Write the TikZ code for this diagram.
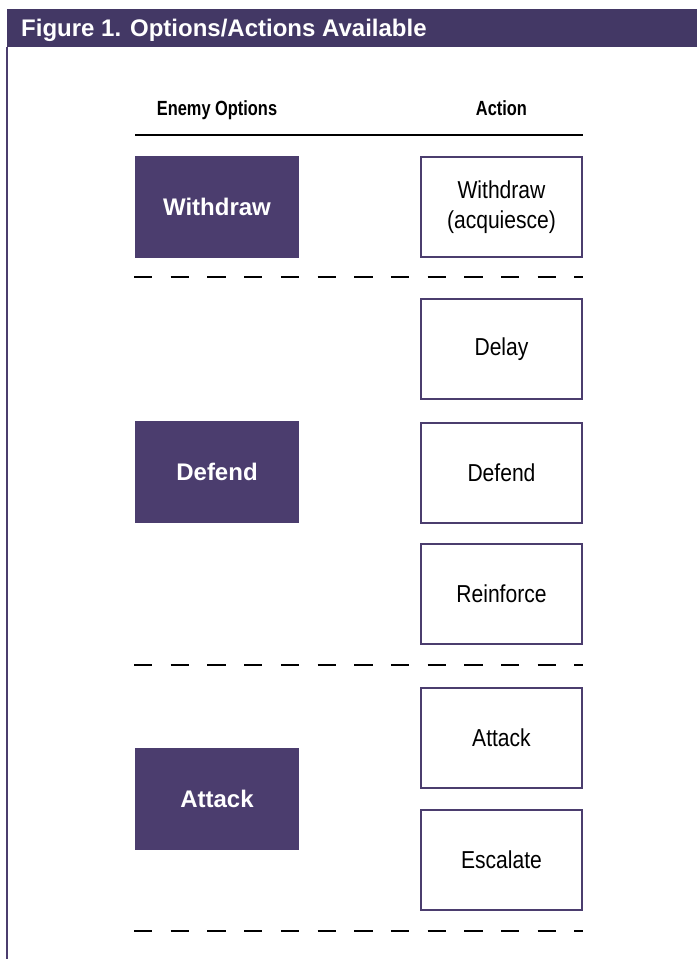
\documentclass[tikz,border=0pt]{standalone}
\usepackage{fontspec}
\setmainfont{Liberation Sans}
\newfontfamily\headcond[FakeStretch=0.8]{Liberation Sans}
\newfontfamily\boxcond[FakeStretch=0.86]{Liberation Sans}
\definecolor{barpurple}{RGB}{67,56,101}
\definecolor{boxpurple}{RGB}{75,61,110}
\tikzset{
  optionbox/.style={rectangle, fill=boxpurple, draw=none, minimum width=164pt, minimum height=102pt,
    inner sep=0pt, text=white, font=\fontsize{24}{28}\selectfont\bfseries},
  actionbox/.style={rectangle, draw=boxpurple, line width=2pt, fill=white, minimum width=161pt,
    minimum height=100pt, inner sep=0pt, align=center, font=\boxcond\fontsize{24.5}{30}\selectfont},
  colhead/.style={anchor=base, inner sep=0pt, font=\headcond\bfseries\fontsize{20.5}{24}\selectfont},
  separator/.style={line width=2.8pt, dash pattern=on 18.3pt off 18.4pt},
}
\begin{document}
\begin{tikzpicture}[x=1pt, y=-1pt]
\useasboundingbox (0,0) rectangle (697,959);
% frame: title bar and left rule
\fill[barpurple] (7,9) rectangle (697,47);
\draw[boxpurple, line width=1.5pt] (7,47) -- (7,959);
\node[anchor=base west, inner sep=0pt, text=white, font=\fontsize{24}{28}\selectfont\bfseries]
  (title) at (21,36) {Figure 1. Options/Actions Available};

% column headings and rule
\node[colhead] (hleft) at (217,115) {Enemy Options};
\node[colhead] (hright) at (501.5,115) {Action};
\coordinate (ruleL) at (135,135);
\coordinate (ruleR) at (583,135);
\draw[line width=2pt] (ruleL) -- (ruleR);

% enemy options
\node[optionbox] (ow) at (217,207) {Withdraw};
\node[optionbox] (od) at (217,472) {Defend};
\node[optionbox] (oa) at (217,799) {Attack};

% actions
\node[actionbox] (aw) at (501.5,207) {Withdraw\\(acquiesce)};
\node[actionbox] (adl) at (501.5,349) {Delay};
\node[actionbox] (adf) at (501.5,472.5) {Defend};
\node[actionbox] (ar) at (501.5,594) {Reinforce};
\node[actionbox] (aa) at (501.5,738) {Attack};
\node[actionbox] (ae) at (501.5,860) {Escalate};

% group separators
\coordinate (s1L) at (134,277);  \coordinate (s1R) at (583,277);
\coordinate (s2L) at (134,665);  \coordinate (s2R) at (583,665);
\coordinate (s3L) at (134,931);  \coordinate (s3R) at (583,931);
\draw[separator] (s1L) -- (s1R);
\draw[separator] (s2L) -- (s2R);
\draw[separator] (s3L) -- (s3R);
\end{tikzpicture}
\end{document}
